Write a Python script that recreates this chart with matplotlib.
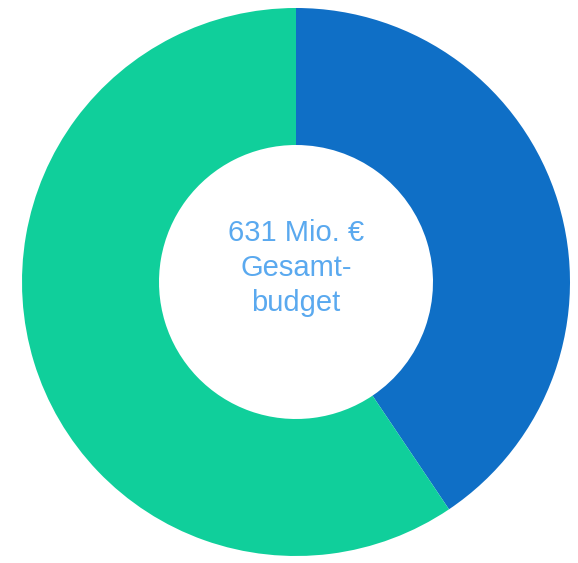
import matplotlib
matplotlib.use("Agg")
import matplotlib.pyplot as plt

# budget split (Mio. €)
labels = ["Anteil A", "Anteil B"]
values = [256, 375]
colors = ["#0F6FC6", "#10CF9B"]
center_text = ["631 Mio. €", "Gesamt-", "budget"]

W, H = 578, 563
fig = plt.figure(figsize=(W / 100, H / 100), dpi=100)
ax = fig.add_axes([0, 0, 1, 1])

R = 274.0
cx, cy = 296.0, H - 282.0
ax.pie(values, colors=colors, startangle=90, counterclock=False,
       radius=1.0, wedgeprops=dict(width=0.5, linewidth=0))
ax.set_xlim(-cx / R, (W - cx) / R)
ax.set_ylim(-cy / R, (H - cy) / R)
ax.set_aspect("auto")
ax.axis("off")

ax.text(0, 14 / R, "\n".join(center_text), ha="center", va="center",
        fontsize=21, color="#5AA9EF", family=["Liberation Sans", "DejaVu Sans"],
        linespacing=1.3)

fig.savefig("out.png", dpi=100)
